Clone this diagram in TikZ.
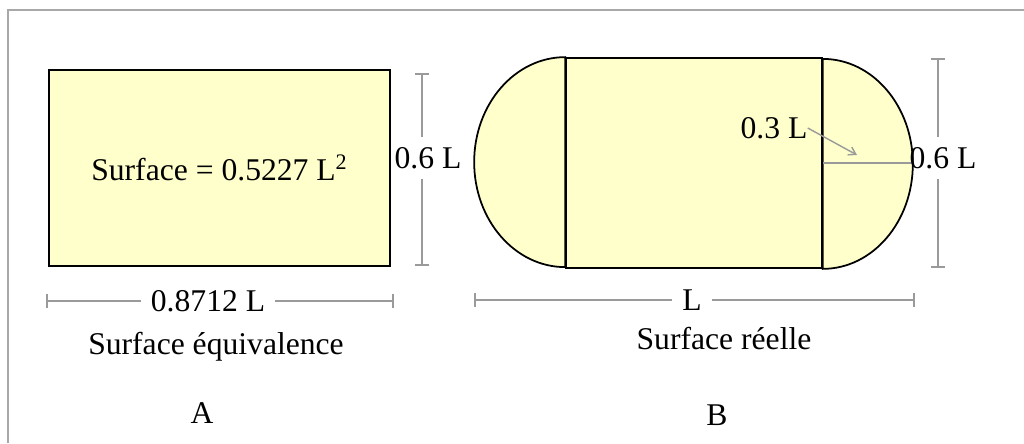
\documentclass[tikz,border=0pt]{standalone}
\usepackage{fontspec}
\setmainfont{Liberation Serif}
\usetikzlibrary{arrows.meta}
\definecolor{paleyellow}{HTML}{FFFFCC}
\definecolor{dimgray}{HTML}{9A9A9A}
\definecolor{framegray}{HTML}{A8A8A8}

\begin{document}
\begin{tikzpicture}[
  x=0.02cm, y=-0.02cm,
  every node/.style={font=\fontsize{18}{21}\selectfont, inner sep=0pt},
  surf/.style={draw, line width=1pt, fill=paleyellow},
  dimline/.style={draw=dimgray, line width=1pt, -{Bar[width=7.5pt, line width=1pt]}},
  hlabel/.style={inner xsep=5.5pt},
  vlabel/.style={inner ysep=5.5pt},
  ptr/.style={dimgray, line width=0.8pt, -{Straight Barb[length=4pt, width=5pt]}}
]

% Canvas and frame
\path[use as bounding box, fill=white] (0,0) rectangle (1024,443);
\draw[framegray, line width=1.2pt] (8,443) -- (8,10) -- (1024,10);

% A -- equivalent rectangle
\node[surf, minimum width=6.82cm, minimum height=3.92cm] (rectA) at (219.5,168)
  {Surface = 0.5227 L\textsuperscript{2}};

% A -- dimensions
\coordinate (aLeft)  at (46,301);
\coordinate (aRight) at (394,301);
\node[hlabel] (aW) at (208,301) {0.8712 L};
\draw[dimline] (aW) -- (aLeft);
\draw[dimline] (aW) -- (aRight);

\coordinate (aTop) at (422,73);
\coordinate (aBot) at (422,266);
\node[vlabel] (aH) at (428,158) {0.6 L};
\draw[dimline] (aH.north -| aTop) -- (aTop);
\draw[dimline] (aH.south -| aBot) -- (aBot);

% B -- real surface (rectangle with two half ends)
\node[surf, minimum width=5.12cm, minimum height=4.2cm] (rectB) at (694,163) {};
\draw[surf] (rectB.north west) arc[start angle=90, end angle=270, x radius=1.82cm, y radius=2.1cm] -- cycle;
\draw[surf] (rectB.south east) arc[start angle=-90, end angle=90, x radius=1.8cm, y radius=2.1cm] -- cycle;

% B -- radius
\coordinate (rEnd) at (912,163);
\draw[dimgray, line width=1pt] (rectB.east) -- (rEnd);
\node (rLbl) at (774,128) {0.3 L};
\coordinate (rTip) at (857,155);
\draw[ptr] (rLbl.east) -- (rTip);

% B -- dimensions
\coordinate (bLeft)  at (474,300);
\coordinate (bRight) at (915,300);
\node[hlabel] (bW) at (692,300) {L};
\draw[dimline] (bW) -- (bLeft);
\draw[dimline] (bW) -- (bRight);

\coordinate (bTop) at (938,58);
\coordinate (bBot) at (938,268);
\node[vlabel] (bH) at (943,158) {0.6 L};
\draw[dimline] (bH.north -| bTop) -- (bTop);
\draw[dimline] (bH.south -| bBot) -- (bBot);

% Captions
\node (capA) at (216,347) {Surface équivalence};
\node (capB) at (724,339) {Surface réelle};
\node (tagA) at (202,413) {A};
\node (tagB) at (717,415) {B};

\end{tikzpicture}
\end{document}
